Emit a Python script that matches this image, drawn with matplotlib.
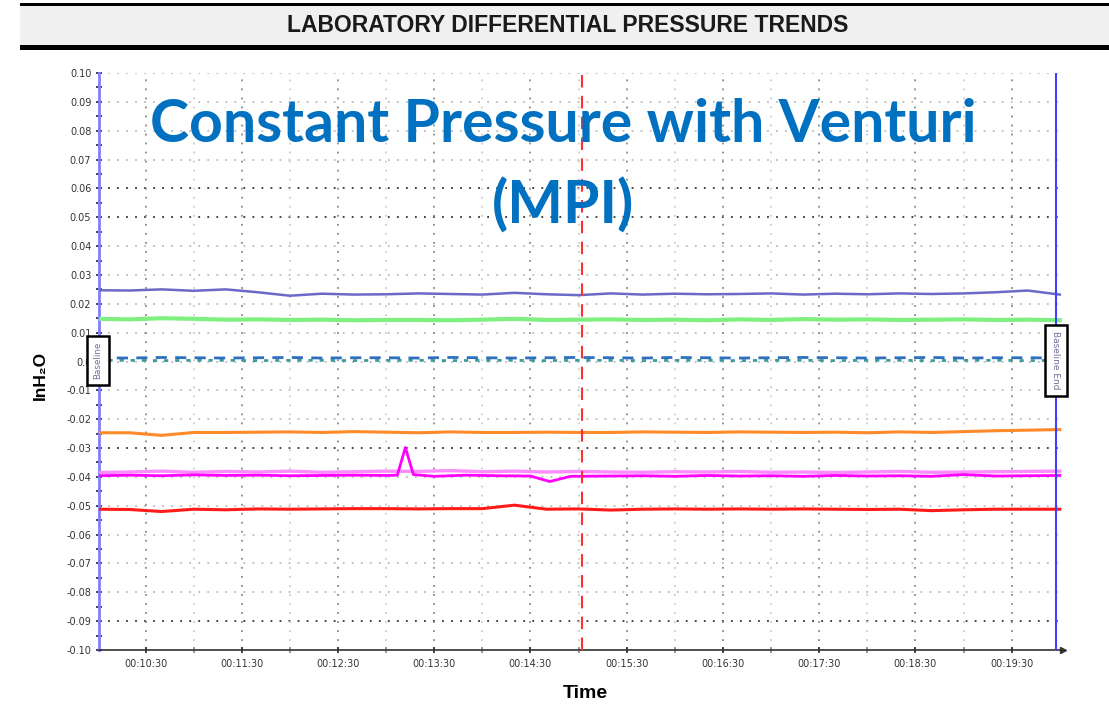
import matplotlib.pyplot as plt
from matplotlib.patches import Rectangle
from matplotlib.ticker import FixedLocator, MultipleLocator

# time axis in seconds (00:10:00 = 600 s)
t_sec = list(range(600, 1201, 20))

purple = [0.0247, 0.0246, 0.0250, 0.0245, 0.0250, 0.0240, 0.0228, 0.0235, 0.0232, 0.0233, 0.0236,
          0.0234, 0.0232, 0.0238, 0.0233, 0.0230, 0.0236, 0.0232, 0.0235, 0.0233, 0.0234, 0.0236,
          0.0232, 0.0235, 0.0233, 0.0236, 0.0234, 0.0236, 0.0240, 0.0246, 0.0232]
green = [0.0148, 0.0146, 0.0150, 0.0148, 0.0145, 0.0146, 0.0144, 0.0145, 0.0143, 0.0144, 0.0144,
         0.0143, 0.0145, 0.0148, 0.0144, 0.0145, 0.0146, 0.0144, 0.0145, 0.0143, 0.0146, 0.0144,
         0.0147, 0.0145, 0.0146, 0.0144, 0.0145, 0.0146, 0.0144, 0.0145, 0.0143]
blue_dash = [0.0013, 0.0012, 0.0014, 0.0013, 0.0012, 0.0013, 0.0014, 0.0012, 0.0013, 0.0013, 0.0012,
             0.0014, 0.0013, 0.0012, 0.0013, 0.0014, 0.0013, 0.0012, 0.0014, 0.0013, 0.0012, 0.0013,
             0.0014, 0.0013, 0.0012, 0.0013, 0.0014, 0.0012, 0.0013, 0.0013, 0.0012]
teal_dot = [0.0004, 0.0004, 0.0003, 0.0004, 0.0004, 0.0003, 0.0004, 0.0004, 0.0003, 0.0004, 0.0004,
            0.0003, 0.0004, 0.0004, 0.0003, 0.0004, 0.0004, 0.0003, 0.0004, 0.0004, 0.0003, 0.0004,
            0.0004, 0.0003, 0.0004, 0.0004, 0.0003, 0.0004, 0.0004, 0.0003, 0.0004]
orange = [-0.0247, -0.0247, -0.0256, -0.0246, -0.0246, -0.0245, -0.0244, -0.0246, -0.0243, -0.0245,
          -0.0247, -0.0244, -0.0246, -0.0246, -0.0245, -0.0246, -0.0246, -0.0244, -0.0245, -0.0246,
          -0.0244, -0.0245, -0.0246, -0.0245, -0.0247, -0.0244, -0.0246, -0.0243, -0.0240, -0.0238, -0.0236]
pink = [-0.0385, -0.0383, -0.0380, -0.0384, -0.0381, -0.0383, -0.0380, -0.0384, -0.0382, -0.0380,
        -0.0381, -0.0378, -0.0382, -0.0380, -0.0383, -0.0381, -0.0383, -0.0384, -0.0382, -0.0383,
        -0.0381, -0.0384, -0.0383, -0.0385, -0.0383, -0.0381, -0.0384, -0.0383, -0.0382, -0.0381, -0.0380]
red = [-0.0512, -0.0513, -0.0520, -0.0512, -0.0514, -0.0511, -0.0512, -0.0511, -0.0510, -0.0510,
       -0.0511, -0.0510, -0.0510, -0.0498, -0.0512, -0.0511, -0.0515, -0.0512, -0.0511, -0.0512,
       -0.0511, -0.0512, -0.0511, -0.0512, -0.0513, -0.0512, -0.0517, -0.0514, -0.0512, -0.0512, -0.0512]

magenta_t = [600, 620, 640, 660, 680, 700, 720, 740, 760, 780, 787, 792, 797, 810, 830, 850, 870,
             882, 895, 920, 940, 960, 980, 1000, 1020, 1040, 1060, 1080, 1100, 1120, 1140, 1160, 1180, 1200]
magenta = [-0.0396, -0.0394, -0.0396, -0.0393, -0.0395, -0.0394, -0.0396, -0.0395, -0.0394, -0.0395,
           -0.0394, -0.0298, -0.0392, -0.0398, -0.0394, -0.0396, -0.0397, -0.0416, -0.0398, -0.0397,
           -0.0396, -0.0398, -0.0395, -0.0397, -0.0396, -0.0398, -0.0395, -0.0397, -0.0396, -0.0398,
           -0.0392, -0.0397, -0.0396, -0.0395]

x_major = [630, 690, 750, 810, 870, 930, 990, 1050, 1110, 1170]
x_labels = ["00:10:30", "00:11:30", "00:12:30", "00:13:30", "00:14:30",
            "00:15:30", "00:16:30", "00:17:30", "00:18:30", "00:19:30"]
x_minor = [660, 720, 780, 840, 900, 960, 1020, 1080, 1140]
y_ticks = [round(-0.10 + 0.01 * i, 2) for i in range(21)]
baseline_start = 600.4
baseline_end = 1197.6
marker_time = 902

fig = plt.figure(figsize=(11.09, 7.05), dpi=100)

# header band
fig.patches.append(Rectangle((20 / 1109, 1 - 46 / 705), 1, 40 / 705, transform=fig.transFigure,
                             facecolor="#f0f0f0", edgecolor="none"))
fig.patches.append(Rectangle((20 / 1109, 1 - 6 / 705), 1, 3 / 705, transform=fig.transFigure,
                             facecolor="black", edgecolor="none"))
fig.patches.append(Rectangle((20 / 1109, 1 - 50 / 705), 1, 5 / 705, transform=fig.transFigure,
                             facecolor="black", edgecolor="none"))
fig.text(568 / 1109, 1 - 25 / 705, "LABORATORY DIFFERENTIAL PRESSURE TRENDS", ha="center", va="center",
         fontsize=16.5, fontweight="bold", family="Liberation Sans", color="#1a1a1a")

ax = fig.add_axes([99 / 1109, 1 - 650 / 705, (1063 - 99) / 1109, (650 - 73) / 705])
ax.set_xlim(601, 1202)
ax.set_ylim(-0.10, 0.10)

# dotted grid
for yv in y_ticks:
    dark = yv in (0.06, 0.05, -0.03, -0.09)
    ax.axhline(yv, color="#333333" if dark else "#bbbbbb", lw=1.3, ls=(0, (1, 4)), zorder=1)
for xv in x_major:
    ax.axvline(xv, color="#888888", lw=1.3, ls=(0, (1, 4)), zorder=1)
for xv in x_minor:
    ax.axvline(xv, color="#cccccc", lw=1.3, ls=(0, (1, 4)), zorder=1)

ax.plot(t_sec, purple, color="#6a6ac8", lw=1.8, zorder=3)
ax.plot(t_sec, green, color="#7fef7f", lw=3, zorder=3)
ax.plot(t_sec, teal_dot, color="#3f9a9a", lw=2, ls=(0, (1.5, 2.5)), zorder=3)
ax.plot(t_sec, blue_dash, color="#2f6fc0", lw=2, ls=(0, (4, 3)), zorder=3)
ax.plot(t_sec, orange, color="#ff8a2a", lw=2.2, zorder=3)
ax.plot(t_sec, pink, color="#ff8cff", lw=2.4, zorder=3)
ax.plot(magenta_t, magenta, color="#ff00ff", lw=2, zorder=4)
ax.plot(t_sec, red, color="#ff1a1a", lw=2.2, zorder=3)

ax.axvline(marker_time, color="#ff3030", lw=1.5, ls=(0, (6, 4)), zorder=5)
ax.axvline(baseline_end, color="#4040ff", lw=1.5, zorder=5)

for s in ("top", "right"):
    ax.spines[s].set_visible(False)
ax.spines["left"].set_color("#8080ff")
ax.spines["left"].set_linewidth(2)
ax.spines["bottom"].set_color("#333333")
ax.spines["bottom"].set_linewidth(1.2)
ax.plot([1202], [-0.10], marker=">", color="#333333", ms=4, clip_on=False, zorder=6)

ax.yaxis.set_major_locator(FixedLocator(y_ticks))
ax.yaxis.set_minor_locator(MultipleLocator(0.005))
ax.set_yticklabels(["0.0" if v == 0 else f"{v:.2f}" for v in y_ticks])
ax.xaxis.set_major_locator(FixedLocator(x_major))
ax.xaxis.set_minor_locator(FixedLocator(x_minor))
ax.set_xticklabels(x_labels)
ax.tick_params(axis="both", which="both", direction="inout", length=5, width=1.2, color="#222244",
               labelsize=7, labelcolor="#333333")
ax.tick_params(axis="x", which="minor", color="#888888")
ax.tick_params(axis="x", pad=4)
ax.tick_params(axis="y", pad=3)

# baseline boxes
box = dict(boxstyle="square,pad=0.7", fc="white", ec="black", lw=1.8)
ax.text(baseline_start, 0.0003, "Baseline", rotation=90, ha="center", va="center", fontsize=6.3,
        color="#7a6a9a", bbox=box, zorder=7, clip_on=False)
ax.text(baseline_end, 0.0003, "Baseline End", rotation=-90, ha="center", va="center", fontsize=6.5,
        color="#7a6a9a", bbox=box, zorder=7, clip_on=False)

fig.text(563 / 1109, 1 - 125 / 705, "Constant Pressure with Venturi", ha="center", va="center",
         fontsize=42.5, fontweight="bold", family="Lato", color="#0070c0")
fig.text(563 / 1109, 1 - 206 / 705, "(MPI)", ha="center", va="center",
         fontsize=42.5, fontweight="bold", family="Lato", color="#0070c0")

fig.text(40 / 1109, 1 - 375 / 705, "InH\u2082O", rotation=90, ha="center", va="center",
         fontsize=12.5, fontweight="bold", family="Liberation Sans")
fig.text(585 / 1109, 1 - 694 / 705, "Time", ha="center", va="center",
         fontsize=14, fontweight="bold", family="Liberation Sans")

fig.savefig("out.png", dpi=100)
